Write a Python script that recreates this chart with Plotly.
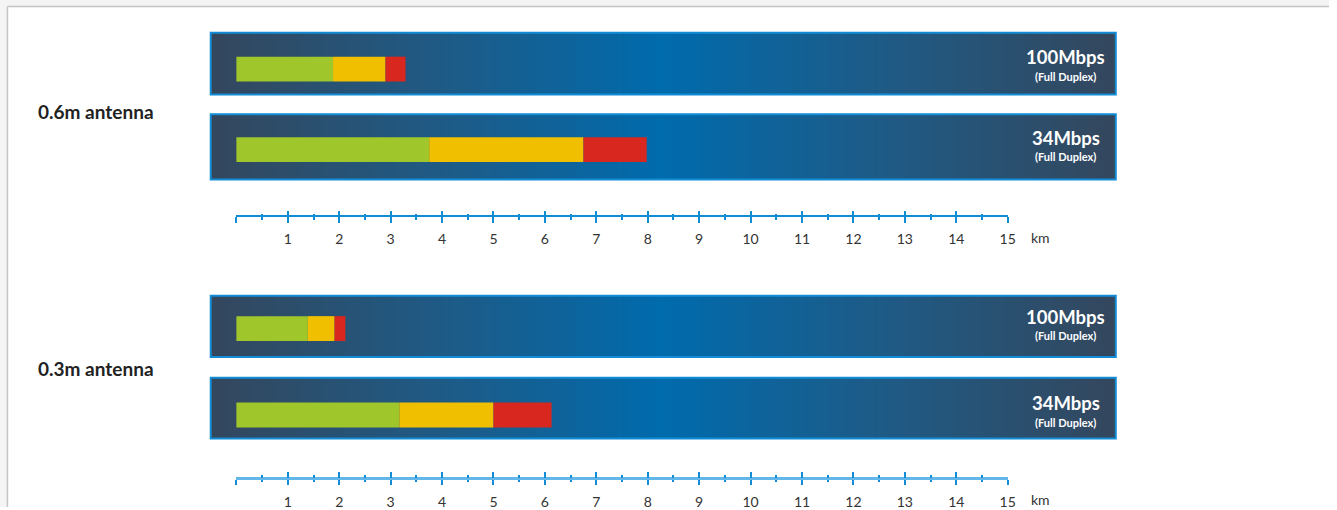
import plotly.graph_objects as go
import numpy as np

# ---------------- data ----------------
antennas = ["0.6m antenna", "0.3m antenna"]
rates = ["100Mbps", "34Mbps", "100Mbps", "34Mbps"]
rate_note = "(Full Duplex)"
# distance (km) where each quality band ends, one entry per bar row
green_end = [1.88, 3.75, 1.39, 3.17]
amber_end = [2.90, 6.75, 1.91, 5.00]
red_end = [3.29, 7.98, 2.12, 6.13]
tick_vals = list(range(0, 16))
tick_text = [""] + [str(i) for i in range(1, 16)]
minor_vals = [i + 0.5 for i in range(15)]
unit_label = "km"

# ---------------- layout constants (page pixels) ----------------
W, H = 1337, 510
PX0, PXKM = 237.8, 51.73            # pixel of 0 km, pixels per km
xr = [-PX0 / PXKM, (W - PX0) / PXKM]

row_center = [69.5, 150.5, 330.5, 417.5]
box_top = [33, 115, 297.5, 380]
box_bot = [95, 180.5, 359, 441]
box_x = [(212 - PX0) / PXKM, (1122.5 - PX0) / PXKM]
ruler_px = [217.3, 480.7]
label_px = [112, 371]
BAR_H = 25
GREEN, AMBER, RED = "#9fc62b", "#f0bf00", "#d8271e"
BLUE_LINE = "#138cd6"
FONT = "Lato"

fig = go.Figure()

# gradient panels (heatmaps)
ncol = 240
xedges = np.linspace(box_x[0], box_x[1], ncol + 1)
xc = (xedges[:-1] + xedges[1:]) / 2
mid = (box_x[0] + box_x[1]) / 2
zrow = np.abs(xc - mid) / (box_x[1] - mid)
for i in range(4):
    fig.add_trace(go.Heatmap(
        x=xedges, y=[box_top[i], box_bot[i]], z=[zrow],
        colorscale=[[0, "#006bad"], [0.5, "#1f5a85"], [1, "#34475d"]],
        zmin=0, zmax=1, showscale=False, hoverinfo="skip"))
    fig.add_shape(type="rect", xref="x", yref="y",
                  x0=box_x[0], x1=box_x[1], y0=box_top[i], y1=box_bot[i],
                  line=dict(color=BLUE_LINE, width=2), fillcolor="rgba(0,0,0,0)")

# stacked quality bars
starts = [[0] * 4, green_end, amber_end]
ends = [green_end, amber_end, red_end]
for s, e, col in zip(starts, ends, [GREEN, AMBER, RED]):
    fig.add_trace(go.Bar(
        orientation="h", y=row_center, base=s,
        x=[b - a for a, b in zip(s, e)], width=BAR_H,
        marker=dict(color=col, line=dict(width=0)),
        hoverinfo="skip", showlegend=False))

# dummy traces so ruler axes are drawn
for ax in ["x2", "x3", "x4", "x5"]:
    fig.add_trace(go.Scatter(x=[None], y=[None], xaxis=ax, yaxis="y",
                             showlegend=False, hoverinfo="skip"))

dom = [PX0 / W, (PX0 + 15 * PXKM) / W]
common = dict(range=[0, 15], anchor="free", showgrid=False,
              zeroline=False, tickvals=tick_vals, tickwidth=2,
              tickcolor=BLUE_LINE, fixedrange=True)
line_colors = [BLUE_LINE, "#62b6e8"]
axes = {}
for k, rp in enumerate(ruler_px):
    pos = 1 - rp / H
    base_name = f"x{2 + 2 * k}"
    down = dict(common, domain=dom, position=pos, showline=True,
                linecolor=line_colors[k], linewidth=2.5 if k else 2,
                ticks="outside", ticklen=5.5, ticktext=tick_text,
                ticklabelstandoff=5,
                tickfont=dict(family=FONT, size=14, color="#333333"),
                minor=dict(tickvals=minor_vals, ticks="outside", ticklen=2.5,
                           tickwidth=2, tickcolor=BLUE_LINE))
    up = dict(common, overlaying=base_name, position=pos, showline=False,
              ticks="inside", ticklen=5.5, showticklabels=False,
              minor=dict(tickvals=minor_vals, ticks="inside", ticklen=2.5,
                         tickwidth=2, tickcolor=BLUE_LINE))
    axes[f"xaxis{2 + 2 * k}"] = down
    axes[f"xaxis{3 + 2 * k}"] = up

annotations = []
for k, name in enumerate(antennas):
    annotations.append(dict(x=36 / W, xref="paper", y=label_px[k], yref="y",
                            text=name, showarrow=False, xanchor="left",
                            font=dict(family=FONT, size=19, color="#222222", weight="bold")))
    annotations.append(dict(x=(1047 - PX0) / PXKM, xref="x", y=ruler_px[k] + 22, yref="y",
                            text=unit_label, showarrow=False,
                            font=dict(family=FONT, size=14, color="#333333")))
xc_txt = (1072 - PX0) / PXKM
for i, r in enumerate(rates):
    annotations.append(dict(x=xc_txt, xref="x", y=row_center[i] - 12, yref="y",
                            text=r, showarrow=False,
                            font=dict(family=FONT, size=18.5, color="white", weight="bold")))
    annotations.append(dict(x=xc_txt, xref="x", y=row_center[i] + 7, yref="y",
                            text=rate_note, showarrow=False,
                            font=dict(family=FONT, size=11, color="white", weight="bold")))

# page frame
fx, fy = 7 / W, 6 / H
for s in [
    dict(type="rect", x0=0, x1=fx, y0=0, y1=1, fillcolor="#f4f4f4", line=dict(width=0)),
    dict(type="rect", x0=0, x1=1, y0=1 - fy, y1=1, fillcolor="#f4f4f4", line=dict(width=0)),
    dict(type="line", x0=7.5 / W, x1=7.5 / W, y0=0, y1=1 - 6.5 / H,
         line=dict(color="#c4c4c4", width=1.5)),
    dict(type="line", x0=7.5 / W, x1=1, y0=1 - 6.5 / H, y1=1 - 6.5 / H,
         line=dict(color="#c4c4c4", width=1.5)),
]:
    fig.add_shape(xref="paper", yref="paper", **s)

fig.update_layout(
    width=W, height=H, margin=dict(l=0, r=0, t=0, b=0),
    paper_bgcolor="white", plot_bgcolor="rgba(0,0,0,0)",
    barmode="overlay", showlegend=False,
    xaxis=dict(range=xr, domain=[0, 1], visible=False, fixedrange=True),
    yaxis=dict(range=[H, 0], domain=[0, 1], visible=False, fixedrange=True),
    annotations=annotations,
    **axes,
)
fig.write_html("out.html", config={"displayModeBar": False, "responsive": False},
               post_script="document.body.style.margin='0';document.body.style.overflow='hidden';")
